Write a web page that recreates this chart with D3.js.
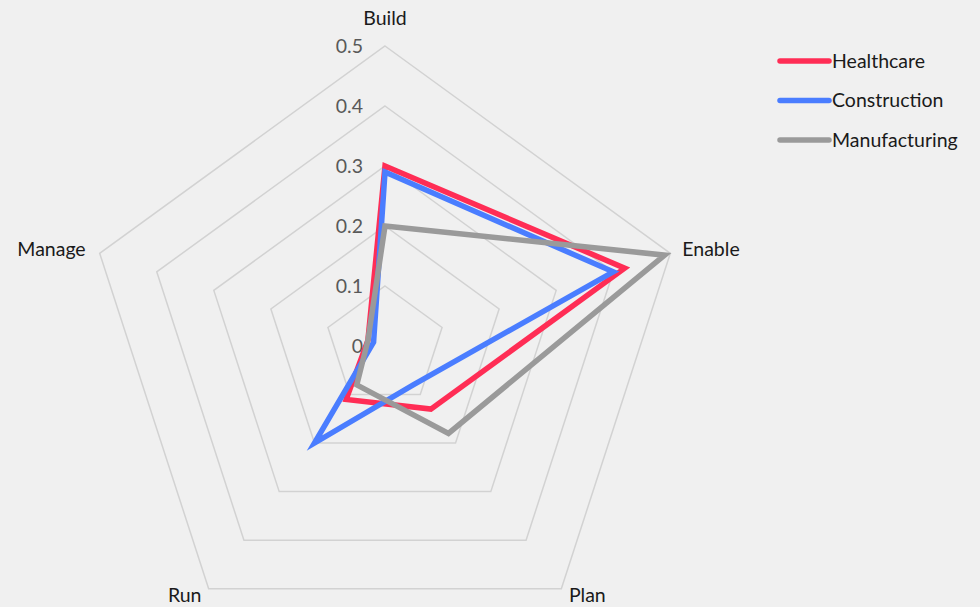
<!DOCTYPE html>
<html lang="en">
<head>
<meta charset="utf-8">
<title>Radar</title>
<script src="https://d3js.org/d3.v7.min.js"></script>
<style>
  body { margin: 0; background: #f0f0f0; }
  text { font-family: Lato, "Open Sans", sans-serif; }
</style>
</head>
<body>
<script>
// data
const axes = ["Build", "Enable", "Plan", "Run", "Manage"];
const seriesNames = ["Healthcare", "Construction", "Manufacturing"];
const healthcare = [0.30, 0.42, 0.13, 0.11, 0.03];
const construction = [0.29, 0.40, 0.08, 0.20, 0.02];
const manufacturing = [0.20, 0.49, 0.18, 0.08, 0.03];
const ticks = [0, 0.1, 0.2, 0.3, 0.4, 0.5];
const colors = ["#ff2d55", "#4a7dff", "#9a9a9a"];

const width = 980, height = 607;
const cx = 385, cy = 346, R = 300;
const fs = 19.5;

const svg = d3.select("body").append("svg")
  .attr("width", width).attr("height", height);

const r = d3.scaleLinear().domain([0, 0.5]).range([0, R]);
const angle = d3.scaleLinear().domain([0, axes.length]).range([0, 2 * Math.PI]);

const pt = (i, v) => [cx + r(v) * Math.sin(angle(i)), cy - r(v) * Math.cos(angle(i))];

// grid rings
svg.append("g").selectAll("path")
  .data(ticks.slice(1))
  .join("path")
  .attr("d", t => d3.line()(axes.map((a, i) => pt(i, t))) + "Z")
  .attr("fill", "none")
  .attr("stroke", "#d2d2d2")
  .attr("stroke-width", 1.5);

// tick labels
svg.append("g").selectAll("text")
  .data(ticks)
  .join("text")
  .attr("x", cx - 22)
  .attr("y", t => cy - r(t))
  .attr("dy", "0.35em")
  .attr("text-anchor", "end")
  .attr("fill", "#595959")
  .attr("font-size", fs)
  .text(t => t === 0 ? "0" : t);

// axis labels
const labelPos = [
  { dx: 0, dy: -28, anchor: "middle" },
  { dx: 12, dy: -4, anchor: "start" },
  { dx: 26, dy: 6, anchor: "middle" },
  { dx: -24, dy: 6, anchor: "middle" },
  { dx: -14, dy: -4, anchor: "end" }
];
svg.append("g").selectAll("text")
  .data(axes)
  .join("text")
  .attr("x", (a, i) => pt(i, 0.5)[0] + labelPos[i].dx)
  .attr("y", (a, i) => pt(i, 0.5)[1] + labelPos[i].dy)
  .attr("dy", "0.35em")
  .attr("text-anchor", (a, i) => labelPos[i].anchor)
  .attr("fill", "#1a1a1a")
  .attr("font-size", fs)
  .text(a => a);

// series
const series = [healthcare, construction, manufacturing];
svg.append("g").selectAll("path")
  .data(series)
  .join("path")
  .attr("d", s => d3.line()(s.map((v, i) => pt(i, v))) + "Z")
  .attr("fill", "none")
  .attr("stroke", (s, k) => colors[k])
  .attr("stroke-width", 5.5)
  .attr("stroke-linejoin", "miter");

// legend
const legend = svg.append("g").selectAll("g")
  .data(seriesNames)
  .join("g")
  .attr("transform", (d, k) => `translate(780,${61 + k * 39.5})`);
legend.append("line")
  .attr("x1", 0).attr("x2", 49)
  .attr("stroke", (d, k) => colors[k])
  .attr("stroke-width", 5.5)
  .attr("stroke-linecap", "round");
legend.append("text")
  .attr("x", 52)
  .attr("dy", "0.35em")
  .attr("fill", "#1a1a1a")
  .attr("font-size", fs)
  .text(d => d);
</script>
</body>
</html>
